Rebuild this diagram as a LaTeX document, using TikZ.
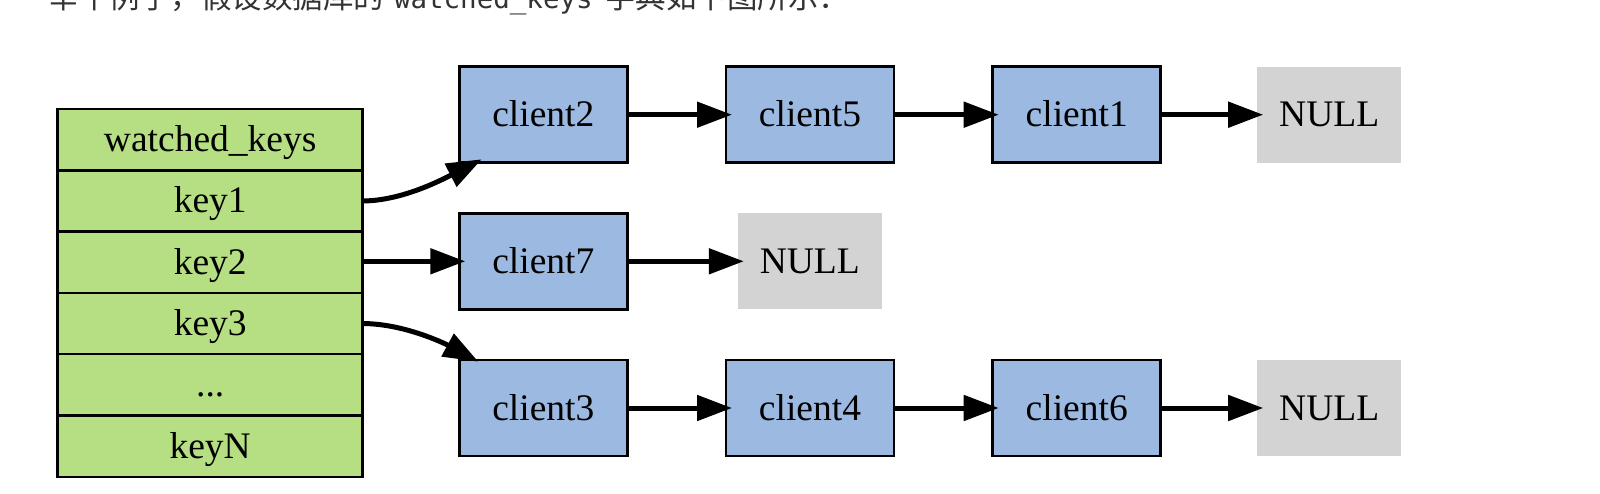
\documentclass[tikz,border=0pt]{standalone}
\usepackage{fontspec}
\setmainfont{Liberation Serif}
\newfontfamily\cjkfont{Noto Sans CJK SC}
\newfontfamily\codefont{DejaVu Sans Mono}
\usetikzlibrary{arrows.meta,calc}
\definecolor{keygreen}{HTML}{B5DF82}
\definecolor{clientblue}{HTML}{9CBAE1}
\definecolor{nullgray}{HTML}{D3D3D3}
\definecolor{prosegray}{HTML}{333333}
\begin{document}
\begin{tikzpicture}[x=1pt,y=-1pt,
  lbl/.style={font=\fontsize{37.5}{40}\selectfont, text height=29pt, text depth=5pt, inner sep=0pt, outer sep=0pt},
  keycell/.style={lbl, draw=black, line width=2.5pt, fill=keygreen, minimum width=305pt, minimum height=61.3pt},
  clientbox/.style={lbl, draw=black, line width=2.5pt, fill=clientblue, minimum width=168pt, minimum height=96pt},
  nullbox/.style={lbl, fill=nullgray, minimum width=144pt, minimum height=96pt},
  link/.style={line width=5pt, -{Triangle[length=35pt,width=25pt]}, shorten >=-6pt},
  curvelink/.style={line width=5pt, -{Triangle[length=35pt,width=25pt]}},
  prose/.style={anchor=base west, inner sep=0pt, outer sep=0pt, text=prosegray}
]
\useasboundingbox (0,0) rectangle (1600,494);
\fill[white] (0,0) rectangle (1600,494);
\clip (0,0) rectangle (1600,494);

% cut-off sentence at the top
\node[prose, font=\cjkfont\fontsize{30.5}{32}\selectfont] (p1) at (48.5,8.5) {举个例子，假设数据库的};
\node[prose, font=\codefont\fontsize{27.5}{30}\selectfont] (p2) at (394,8.5) {watched\_keys};
\node[prose, font=\cjkfont\fontsize{30.5}{32}\selectfont] (p3) at (605,8.5) {字典如下图所示：};

% dictionary table
\node[keycell] (k0) at (210.2,139.7) {watched\_keys};
\node[keycell] (k1) at (210.2,200.95) {key1};
\node[keycell] (k2) at (210.2,262.25) {key2};
\node[keycell] (k3) at (210.2,323.55) {key3};
\node[keycell] (k4) at (210.2,384.85) {...};
\node[keycell] (k5) at (210.2,446.1) {keyN};

% row 1
\node[clientbox] (c2) at (543.3,114.7) {client2};
\node[clientbox] (c5) at (810,114.7) {client5};
\node[clientbox] (c1) at (1076.7,114.7) {client1};
\node[nullbox] (n1) at (1329.2,114.7) {NULL};
% row 2
\node[clientbox] (c7) at (543.3,261.3) {client7};
\node[nullbox] (n2) at (809.8,261.3) {NULL};
% row 3
\node[clientbox] (c3) at (543.3,408) {client3};
\node[clientbox] (c4) at (810,408) {client4};
\node[clientbox] (c6) at (1076.7,408) {client6};
\node[nullbox] (n3) at (1329.2,408) {NULL};

% links
\draw[curvelink] (k1.east) .. controls +(40,0) and +(-37,19) .. ([xshift=22.4pt,yshift=3.4pt]c2.south west);
\draw[link] (k2.east |- c7.west) -- (c7.west);
\draw[curvelink] (k3.east) .. controls +(40,0) and +(-35,-19) .. ([xshift=19pt,yshift=-1.7pt]c3.north west);

\draw[link] (c2) -- (c5);
\draw[link] (c5) -- (c1);
\draw[link] (c1) -- (n1);
\draw[link] (c7) -- (n2);
\draw[link] (c3) -- (c4);
\draw[link] (c4) -- (c6);
\draw[link] (c6) -- (n3);
\end{tikzpicture}
\end{document}
